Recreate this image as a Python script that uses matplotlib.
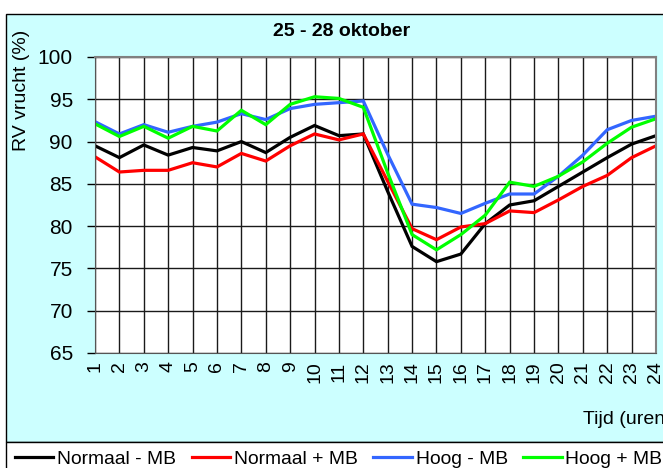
import matplotlib
matplotlib.use("Agg")
import matplotlib.pyplot as plt
from matplotlib.patches import Rectangle

plt.rcParams['font.family'] = ['Liberation Sans', 'DejaVu Sans']

hours = list(range(1, 25))
normaal_min = [89.5, 88.1, 89.6, 88.4, 89.3, 88.9, 90.0, 88.7, 90.5, 91.9, 90.7, 90.9,
               84.1, 77.6, 75.8, 76.7, 80.3, 82.5, 83.0, 84.7, 86.4, 88.1, 89.7, 90.7]
normaal_plus = [88.2, 86.4, 86.6, 86.6, 87.5, 87.0, 88.6, 87.7, 89.5, 90.9, 90.2, 90.9,
                85.3, 79.7, 78.4, 79.9, 80.3, 81.8, 81.6, 83.1, 84.7, 86.0, 88.1, 89.5]
hoog_min = [92.35, 90.9, 92.0, 91.1, 91.8, 92.3, 93.3, 92.6, 93.9, 94.4, 94.6, 94.8,
            88.5, 82.6, 82.2, 81.5, 82.7, 83.8, 83.8, 85.9, 88.4, 91.4, 92.5, 93.0]
hoog_plus = [92.1, 90.6, 91.8, 90.4, 91.8, 91.25, 93.7, 92.0, 94.4, 95.3, 95.1, 94.05,
             86.3, 79.0, 77.2, 79.0, 81.3, 85.2, 84.7, 85.9, 87.6, 89.8, 91.7, 92.7]

series_names = ['Normaal - MB', 'Normaal + MB', 'Hoog - MB', 'Hoog + MB']
series_colors = ['#000000', '#ff0000', '#3366ff', '#00ff00']
series_data = [normaal_min, normaal_plus, hoog_min, hoog_plus]

W, H = 663, 468
fig = plt.figure(figsize=(W / 100, H / 100), dpi=100, facecolor='white')

# outer chart area
fig.patches.append(Rectangle((6 / W, 1 - 442 / H), 1.2, (442 - 14) / H,
                             transform=fig.transFigure, facecolor='#ccffff',
                             edgecolor='black', linewidth=1, zorder=-2))
# legend box
fig.patches.append(Rectangle((6 / W, -0.2), 1.2, 0.2 + 1 - 442 / H,
                             transform=fig.transFigure, facecolor='white',
                             edgecolor='black', linewidth=1, zorder=-1))

ax = fig.add_axes([95 / W, 1 - 353 / H, (656 - 95) / W, (353 - 57) / H])
ax.set_facecolor('white')

for name, col, data in zip(series_names, series_colors, series_data):
    ax.plot(hours, data, color=col, linewidth=2.3, label=name, solid_joinstyle='miter')

ax.set_xlim(1, 24)
ax.set_ylim(65, 100)
ax.set_yticks(range(65, 101, 5))
ax.set_xticks(hours)
ax.set_xticklabels([str(h) for h in hours], rotation=90, fontsize=14)
ax.tick_params(axis='y', labelsize=15, length=6, width=1, pad=10, direction='out')
ax.tick_params(axis='x', length=0, pad=6)
ax.grid(True, color='#1a1a1a', linewidth=1)
ax.set_axisbelow(True)
for s in ['top', 'right']:
    ax.spines[s].set_color('#808080')
    ax.spines[s].set_linewidth(1.5)
ax.spines['left'].set_color('#555555')
ax.spines['bottom'].set_color('#555555')

fig.text(342 / W, 1 - 32 / H, '25 - 28 oktober', ha='center', va='center',
         fontsize=14, fontweight='bold')
fig.text(22 / W, 1 - 90 / H, 'RV vrucht (%)', rotation=90, ha='center', va='center',
         fontsize=14)
fig.text(583 / W, 1 - 419 / H, 'Tijd (uren)', ha='left', va='center', fontsize=14)

handles, labels = ax.get_legend_handles_labels()
fig.legend(handles, labels, loc='center left', bbox_to_anchor=(15 / W, 1 - 459 / H),
           ncol=4, frameon=False, fontsize=13.85, handlelength=2.0,
           handletextpad=0.2, columnspacing=0.8, borderpad=0, borderaxespad=0)

fig.savefig('out.png', dpi=100, facecolor='white')
